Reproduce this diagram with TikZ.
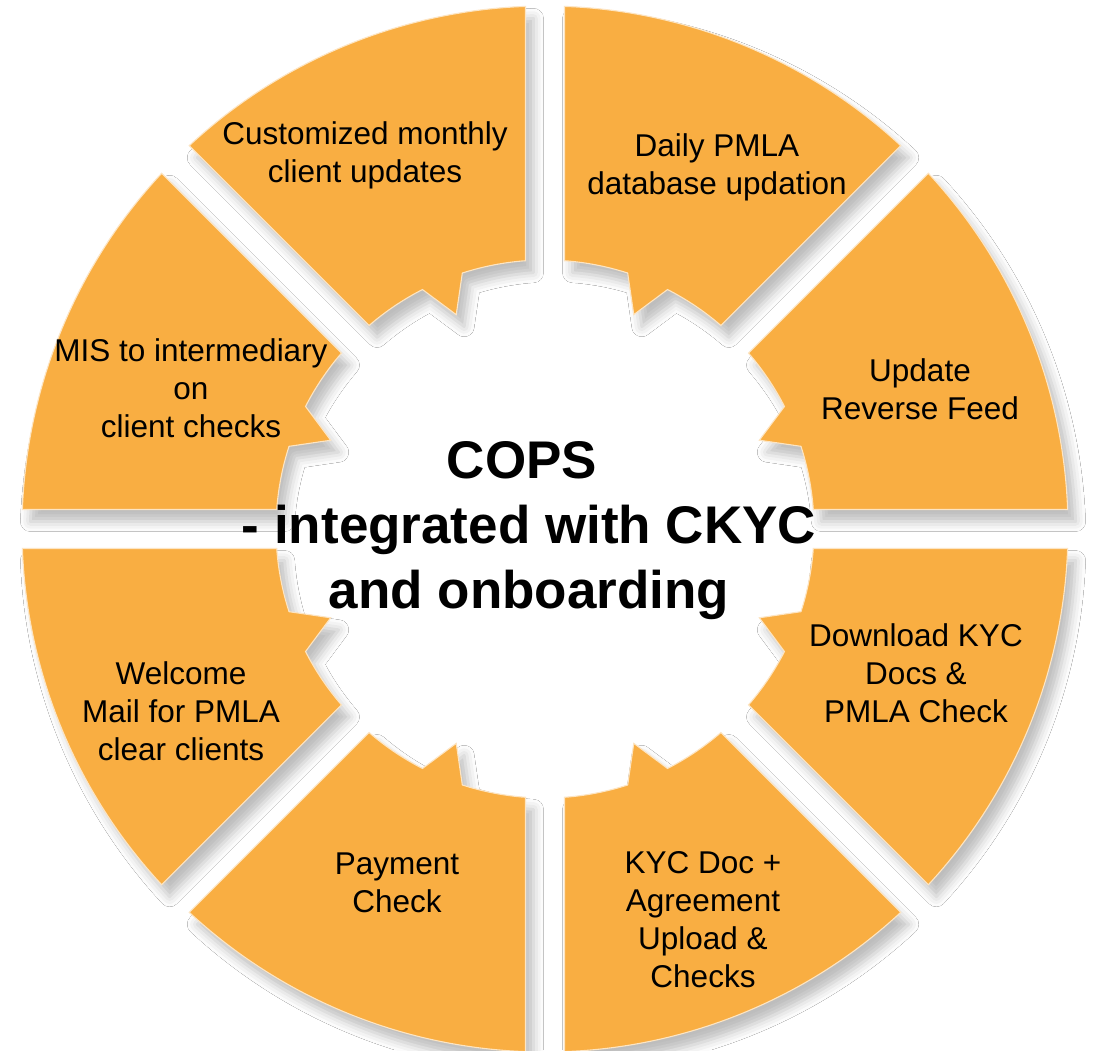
\documentclass[tikz,border=0pt]{standalone}
\usepackage{fontspec}
\setmainfont{Liberation Sans}
\usetikzlibrary{shadows.blur}
\definecolor{segorange}{RGB}{249,174,66}
\definecolor{segedge}{RGB}{253,229,195}
\begin{document}
\begin{tikzpicture}[x=1pt,y=1pt,
  sector/.style={fill=segorange, draw=segedge, line width=1.1pt, line join=miter,
    blur shadow={shadow xshift=8pt, shadow yshift=-12pt, shadow blur radius=10pt, shadow opacity=26}},
  lbl/.style={align=center, inner sep=0pt, text=black, font=\fontsize{31.5}{38}\selectfont},
  ctr/.style={align=center, inner sep=0pt, text=black, font=\fontsize{53}{65}\selectfont\bfseries}]
\useasboundingbox (0,0) rectangle (1097,-1050);
\fill[white] (0,0) rectangle (1097,-1050);
\clip (0,0) rectangle (1097,-1050);
\def\R{523}\def\ri{269}\def\rt{232}
\def\dO{2.137}\def\dI{4.157}\def\tw{4.6}
\begin{scope}[shift={(545,-529)}]
\foreach \a in {0,45,...,315}{
  \pgfmathsetmacro\b{\a+45}
  \pgfmathsetmacro\m{\a+22.5}
  \pgfmathsetmacro\oa{\a+\dO}
  \pgfmathsetmacro\ob{\b-\dO}
  \pgfmathsetmacro\ia{\a+\dI}
  \pgfmathsetmacro\ib{\b-\dI}
  \pgfmathsetmacro\ta{\m+\tw}
  \pgfmathsetmacro\tb{\m-\tw}
  \path[sector] (\oa:\R) arc[start angle=\oa, end angle=\ob, radius=\R]
    -- (\ib:\ri) arc[start angle=\ib, end angle=\ta, radius=\ri]
    -- (\m:\rt) -- (\tb:\ri) arc[start angle=\tb, end angle=\ia, radius=\ri]
    -- cycle;
}
\end{scope}
\node[lbl] (cust) at (365,-155) {Customized monthly\\client updates};
\node[lbl] (daily) at (717,-167) {Daily PMLA\\database updation};
\node[lbl] (update) at (920,-389) {Update\\Reverse Feed};
\node[lbl] (download) at (916,-673) {Download KYC\\Docs \&\\PMLA Check};
\node[lbl] (kyc) at (703,-920) {KYC Doc +\\Agreement\\Upload \&\\Checks};
\node[lbl] (pay) at (397,-883) {Payment\\Check};
\node[lbl] (welcome) at (181,-711) {Welcome\\Mail for PMLA\\clear clients};
\node[lbl] (mis) at (191,-388) {MIS to intermediary\\on\\client checks};
\node[ctr] (cops) at (529,-531) {COPS\hspace*{14pt}\\- integrated with CKYC\\and onboarding};
\end{tikzpicture}
\end{document}
